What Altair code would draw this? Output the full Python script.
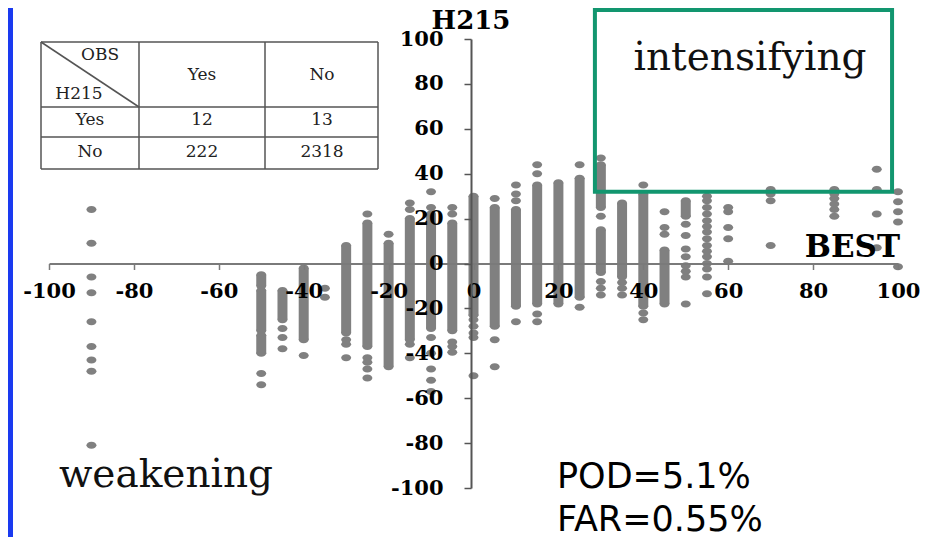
import altair as alt
import pandas as pd

# ---------------- values ----------------
# isolated dots: one list of H215 values per BEST value (column)
dot_cols = [-90, -50, -45, -40, -35, -30, -25, -20, -15, -10, -5, 0, 5, 10,
            15, 25, 30, 35, 40, 45, 50, 55, 60, 70, 85, 95, 100]
dot_vals = [
    [24, 9, -6, -13, -26, -37, -43, -48, -81],          # -90
    [-49, -54],                                          # -50
    [-29, -33, -38],                                     # -45
    [-41],                                               # -40
    [-11, -15],                                          # -35
    [-34, -36, -42],                                     # -30
    [22, -42, -44, -47, -51],                            # -25
    [13],                                                # -20
    [27, 24, -36, -42],                                  # -15
    [32, 25, -33, -40, -47, -52, -57],                   # -10
    [25, 22, -35, -37, -39.5],                           # -5
    [-25, -28, -31, -33, -50],                           # 0
    [29, -34, -46],                                      # 5
    [35, 31, 28, -26],                                   # 10
    [44, 40, -22.5, -26],                                # 15
    [44, -19.5],                                         # 25
    [47, 21, -8, -11, -14],                              # 30
    [-8.5, -11, -14],                                    # 35
    [35, -22, -25],                                      # 40
    [23, 16, 13],                                        # 45
    [17.5, 12.5, 6.5, 3, -1, -3.5, -6, -18],             # 50
    [30, 28, 25, 22, 19, 16.5, 14, 11, 8, 5.5, 3, 0, -2.5, -6, -13.5],  # 55
    [25, 23, 16, 11, 1],                                 # 60
    [33, 31, 28, 8],                                     # 70
    [33, 31, 29, 26.5, 24, 21],                          # 85
    [42, 33, 22, 7],                                     # 95
    [32, 27.5, 23, 18.5, -1.5],                          # 100
]
# densely packed runs of overlapping dots: BEST value, top and bottom H215
run_x = [-50, -50, -50, -45, -40, -30, -25, -20, -15, -10, -5, 0, 5, 10,
         15, 20, 25, 30, 30, 35, 40, 45, 50]
run_top = [-5, -12, -32, -12, -2, 8, 18, 9, 20, 22, 18, 30, 25, 24,
           35, 36, 38, 44, 15, 27, 31, 6, 28]
run_bottom = [-10, -30, -40, -25, -34, -31, -37, -46, -34, -29, -30, -23, -28, -19,
              -18, -18, -15, 25, -4, -6, -19, -18, 21]

# "intensifying" box (BEST range, H215 range)
box_best = [28.6, 98.6]
box_h215 = [32, 112.9]

# contingency table
table_corner = ["OBS", "H215"]
table_cols = ["Yes", "No"]
table_rows = ["Yes", "No"]
table_counts = [[12, 13], [222, 2318]]

region_labels = ["intensifying", "weakening"]
scores = ["POD=5.1%", "FAR=0.55%"]
axis_titles = ["H215", "BEST"]
ticks = [-100, -80, -60, -40, -20, 0, 20, 40, 60, 80, 100]

# ---------------- layout / style ----------------
W, H = 849, 449
GRAY = "#808080"
GREEN = "#12966f"
ELLIPSE = "M-1,0A1,0.7,0,1,1,1,0A1,0.7,0,1,1,-1,0Z"

xs = alt.Scale(domain=[-100, 100], nice=False, zero=False)
ys = alt.Scale(domain=[-100, 100], nice=False, zero=False)

x_axis = alt.Axis(values=ticks, offset=-H / 2, labelExpr="'' + datum.value",
                  grid=False, domainColor="#7a7a7a", domainWidth=2,
                  tickColor="#7a7a7a", tickWidth=1.5, tickSize=6,
                  labelFont="DejaVu Serif", labelFontWeight="bold",
                  labelFontSize=21, labelColor="#000", labelPadding=11,
                  labelOverlap=False, labelFlush=False, zindex=1)
y_axis = alt.Axis(values=ticks, offset=-422, labelExpr="'' + datum.value",
                  grid=False, domainColor="#555555", domainWidth=2,
                  tickColor="#555555", tickWidth=1.5, tickSize=7,
                  labelFont="DejaVu Serif", labelFontWeight="bold",
                  labelFontSize=21, labelColor="#000", labelPadding=21,
                  labelOverlap=False, labelFlush=False, zindex=1)


def X(f):
    return alt.X(f, scale=xs, axis=x_axis, title=None)


def Y(f):
    return alt.Y(f, scale=ys, axis=y_axis, title=None)


dots_df = pd.DataFrame([(x, y) for x, vals in zip(dot_cols, dot_vals) for y in vals],
                       columns=["best", "h215"])
runs_df = pd.DataFrame({"best": run_x, "top": run_top, "bottom": run_bottom})
ends_df = pd.DataFrame({"best": run_x + run_x, "h215": run_top + run_bottom})
box_df = pd.DataFrame({"b0": [box_best[0]], "b1": [box_best[1]],
                       "h0": [box_h215[0]], "h1": [box_h215[1]]})

runs = alt.Chart(runs_df).mark_rule(strokeWidth=10, color=GRAY, strokeCap="butt").encode(
    x=X("best:Q"), y=Y("top:Q"), y2="bottom:Q")
ends = alt.Chart(ends_df).mark_point(shape=ELLIPSE, filled=True, size=100, color=GRAY,
                                     opacity=1, strokeWidth=0).encode(
    x=X("best:Q"), y=Y("h215:Q"))
dots = alt.Chart(dots_df).mark_point(shape=ELLIPSE, filled=True, size=100, color=GRAY,
                                     opacity=1, strokeWidth=0).encode(
    x=X("best:Q"), y=Y("h215:Q"))
box = alt.Chart(box_df).mark_rect(fillOpacity=0, stroke=GREEN, strokeWidth=4).encode(
    x=X("b0:Q"), x2="b1:Q", y=Y("h0:Q"), y2="h1:Q")

# ---- contingency table (pixel layout) ----
col_edges = [-8, 90, 216, 329]
row_edges = [3, 68, 98, 130]
col_centers = [41, 153, 273]
row_centers = [36, 81, 113]
lines = []
for cx in col_edges:
    lines.append((cx, cx, row_edges[0], row_edges[-1]))
for ry in row_edges:
    lines.append((col_edges[0], col_edges[-1], ry, ry))
lines.append((col_edges[0], col_edges[1], row_edges[0], row_edges[1]))
lines_df = pd.DataFrame(lines, columns=["x", "x2", "y", "y2"])

cells = [(table_corner[0], 51, 16), (table_corner[1], 30, 55)]
for j, c in enumerate(table_cols):
    cells.append((c, col_centers[j + 1], row_centers[0]))
for i, r in enumerate(table_rows):
    cells.append((r, col_centers[0], row_centers[i + 1]))
    for j in range(len(table_cols)):
        cells.append((str(table_counts[i][j]), col_centers[j + 1], row_centers[i + 1]))
cells_df = pd.DataFrame(cells, columns=["t", "px", "py"])

table_lines = alt.Chart(lines_df).mark_rule(color="#555555", strokeWidth=1.5).encode(
    x=alt.X("x:Q", scale=None), x2="x2:Q", y=alt.Y("y:Q", scale=None), y2="y2:Q")
table_text = alt.Chart(cells_df).mark_text(font="DejaVu Serif", fontSize=17, color="#222",
                                           align="center", baseline="middle").encode(
    x=alt.X("px:Q", scale=None), y=alt.Y("py:Q", scale=None), text="t:N")


def label(text, px, py, **kw):
    return alt.Chart(pd.DataFrame({"t": [text]})).mark_text(**kw).encode(
        x=alt.value(px), y=alt.value(py), text="t:N")


intens = label(region_labels[0], 701, 31, font="DejaVu Serif", fontSize=39,
               color="#111", align="center", baseline="alphabetic")
weak = label(region_labels[1], 117, 448, font="DejaVu Serif", fontSize=39,
             color="#111", align="center", baseline="alphabetic")
pod = label(scores[0], 508, 449, font="DejaVu Sans", fontSize=35,
            color="#000", align="left", baseline="alphabetic")
far = label(scores[1], 508, 492, font="DejaVu Sans", fontSize=35,
            color="#000", align="left", baseline="alphabetic")
ytitle = label(axis_titles[0], 422, -10, font="DejaVu Serif", fontSize=26, fontWeight="bold",
               color="#000", align="center", baseline="alphabetic")
xtitle = label(axis_titles[1], 851, 218, font="DejaVu Serif", fontSize=31, fontWeight="bold",
               color="#000", align="right", baseline="alphabetic")

blue = alt.Chart(pd.DataFrame({"k": [0]})).mark_rect(color="#1a3af0").encode(
    x=alt.value(-41), x2=alt.value(-36), y=alt.value(-31), y2=alt.value(498))

chart = alt.layer(
    blue, table_lines, table_text, runs, ends, dots, box,
    intens, weak, pod, far, ytitle, xtitle
).properties(
    width=W, height=H,
    padding={"left": 41, "top": 31, "right": 22, "bottom": 49},
    autosize=alt.AutoSizeParams(type="none"),
    background="white",
).configure_view(stroke=None)

chart.save("out.html", embed_options={"renderer": "svg", "actions": False})
